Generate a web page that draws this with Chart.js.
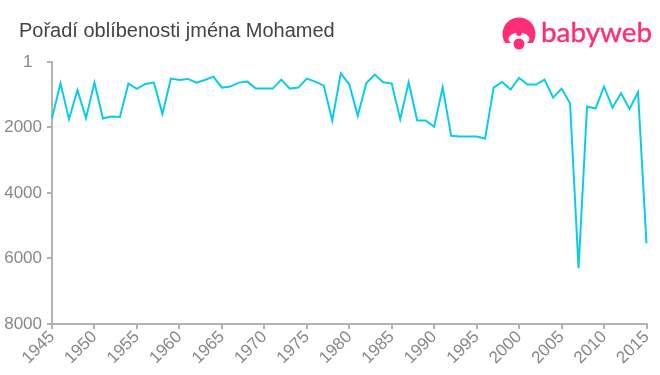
<!DOCTYPE html>
<html>
<head>
<meta charset="utf-8">
<title>Pořadí oblíbenosti jména Mohamed</title>
<script src="https://cdn.jsdelivr.net/npm/chart.js@4/dist/chart.umd.min.js"></script>
<style>
    html, body { margin: 0; padding: 0; background: #fff; }
    #wrap { position: relative; width: 660px; height: 375px; overflow: hidden; }
    #chartTitle {
        position: absolute; left: 19px; top: 19px;
        font: 20px "Liberation Sans", Arial, sans-serif; color: #444;
        white-space: nowrap;
    }
    #logo { position: absolute; left: 495px; top: 8px; }
</style>
</head>
<body>
<div id="wrap">
    <canvas id="rankChart" width="660" height="375"></canvas>
    <div id="chartTitle">Pořadí oblíbenosti jména Mohamed</div>
    <svg id="logo" width="165" height="50" viewBox="0 0 165 50">
        <circle cx="24" cy="26" r="16.5" fill="#ff2d78"/>
        <rect x="5" y="35" width="38" height="10" fill="#fff"/>
        <ellipse cx="24" cy="31" rx="10.5" ry="6.5" fill="#fff"/>
        <ellipse cx="24" cy="24.5" rx="3" ry="3.5" fill="#ff2d78"/>
        <circle cx="24" cy="36" r="7.5" fill="#fff"/>
        <circle cx="24" cy="36" r="5.5" fill="#ff2d78"/>
        <text x="46" y="34" font-family="Lato, 'Noto Sans', sans-serif" font-size="27" fill="#ff2d78" stroke="#ff2d78" stroke-width="0.4" textLength="111" lengthAdjust="spacingAndGlyphs">babyweb</text>
    </svg>
</div>
<script>
// valeurs
const years = [1945, 1946, 1947, 1948, 1949, 1950, 1951, 1952, 1953, 1954,
    1955, 1956, 1957, 1958, 1959, 1960, 1961, 1962, 1963, 1964,
    1965, 1966, 1967, 1968, 1969, 1970, 1971, 1972, 1973, 1974,
    1975, 1976, 1977, 1978, 1979, 1980, 1981, 1982, 1983, 1984,
    1985, 1986, 1987, 1988, 1989, 1990, 1991, 1992, 1993, 1994,
    1995, 1996, 1997, 1998, 1999, 2000, 2001, 2002, 2003, 2004,
    2005, 2006, 2007, 2008, 2009, 2010, 2011, 2012, 2013, 2014, 2015];
const ranks = [1716, 650, 1747, 854, 1716, 630, 1728, 1667, 1677, 660,
    823, 670, 630, 1585, 508, 549, 518, 630, 549, 447,
    783, 752, 630, 600, 813, 813, 813, 539, 813, 783,
    508, 600, 722, 1789, 346, 681, 1646, 650, 386, 620,
    660, 1748, 620, 1789, 1789, 1982, 773, 2256, 2276, 2276,
    2276, 2337, 783, 610, 844, 488, 691, 691, 539, 1088,
    813, 1260, 6300, 1362, 1423, 752, 1392, 955, 1433, 925, 5540];
const yTicks = [1, 2000, 4000, 6000, 8000];
const xTicks = [1945, 1950, 1955, 1960, 1965, 1970, 1975, 1980, 1985, 1990, 1995, 2000, 2005, 2010, 2015];

const axisColor = '#b3b3b3';
const labelColor = '#888888';
const labelFont = { family: '"Liberation Sans", Arial, sans-serif', size: 17 };

new Chart(document.getElementById('rankChart'), {
    type: 'line',
    data: {
        datasets: [{
            data: years.map((y, i) => ({ x: y, y: ranks[i] })),
            borderColor: '#08cdea',
            borderWidth: 2,
            pointRadius: 0,
            tension: 0,
            clip: false
        }]
    },
    options: {
        responsive: false,
        animation: false,
        layout: { padding: { left: 0, top: 62, right: 13.5, bottom: 0 } },
        plugins: { legend: { display: false }, title: { display: false }, tooltip: { enabled: false } },
        scales: {
            x: {
                type: 'linear',
                min: 1945,
                max: 2015,
                afterBuildTicks: axis => { axis.ticks = xTicks.map(v => ({ value: v })); },
                afterFit: axis => { axis.height = 51; },
                grid: { drawOnChartArea: false, color: axisColor, lineWidth: 2, tickLength: 5 },
                border: { color: axisColor, width: 2 },
                ticks: {
                    color: labelColor, font: labelFont, padding: -2,
                    maxRotation: 45, minRotation: 45, autoSkip: false,
                    callback: v => String(v)
                }
            },
            y: {
                reverse: true,
                min: 1,
                max: 8000,
                afterBuildTicks: axis => { axis.ticks = yTicks.map(v => ({ value: v })); },
                afterFit: axis => { axis.width = 52; },
                grid: { drawOnChartArea: false, color: axisColor, lineWidth: 2, tickLength: 5 },
                border: { color: axisColor, width: 2 },
                // le "1" n'est pas aligné à droite sur l'original
                ticks: { color: labelColor, font: labelFont, padding: 5, callback: v => v === 1 ? '1\u00a0\u00a0' : String(v) }
            }
        }
    }
});
</script>
</body>
</html>
